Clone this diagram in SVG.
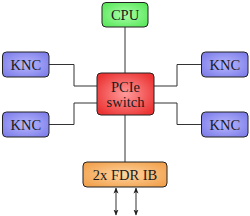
<svg xmlns="http://www.w3.org/2000/svg" width="250" height="216" viewBox="0 0 250 216">
<defs>
<radialGradient id="gG" cx="50%" cy="50%" r="60%"><stop offset="0" stop-color="#a8ffa8"/><stop offset="1" stop-color="#5ee85e"/></radialGradient>
<radialGradient id="gR" cx="50%" cy="50%" r="60%"><stop offset="0" stop-color="#ff9a9a"/><stop offset="1" stop-color="#ec3434"/></radialGradient>
<radialGradient id="gB" cx="50%" cy="50%" r="60%"><stop offset="0" stop-color="#b8b8ff"/><stop offset="1" stop-color="#8080ea"/></radialGradient>
<radialGradient id="gO" cx="50%" cy="50%" r="60%"><stop offset="0" stop-color="#ffd4a0"/><stop offset="1" stop-color="#f2a350"/></radialGradient>
<marker id="ah" viewBox="0 0 6 6" refX="5.5" refY="3" markerWidth="6" markerHeight="6" orient="auto-start-reverse" markerUnits="userSpaceOnUse"><path d="M0,0.5 L6,3 L0,5.5 L1.5,3 Z" fill="#222"/></marker>
</defs>
<style>
.box{stroke:#222;stroke-width:1;}
.t{font-family:"Liberation Serif","DejaVu Serif",serif;font-size:14.5px;text-anchor:middle;fill:#1a1a1a;}
.c{fill:none;stroke:#333;stroke-width:1;}
</style>
<g id="connectors">
<path class="c" d="M125,27 V73"/>
<path class="c" d="M125,115 V162"/>
<path class="c" d="M49,64.5 H74 V86 H97"/>
<path class="c" d="M201,64.5 H177 V86 H154"/>
<path class="c" d="M49,124.5 H74 V103 H97"/>
<path class="c" d="M201,124.5 H177 V103 H154"/>
<path class="c" d="M116,188 V215" marker-start="url(#ah)" marker-end="url(#ah)"/>
<path class="c" d="M136,188 V215" marker-start="url(#ah)" marker-end="url(#ah)"/>
</g>
<g id="cpu"><rect class="box" x="102" y="2.5" width="46" height="24.5" rx="4" fill="url(#gG)"/><text class="t" x="125" y="19.5">CPU</text></g>
<g id="pcie"><rect class="box" x="97" y="73" width="57" height="42" rx="4" fill="url(#gR)"/><text class="t" x="125.5" y="92">PCIe</text><text class="t" x="125.5" y="107">switch</text></g>
<g id="knc1"><rect class="box" x="2.5" y="52" width="46.5" height="25" rx="4" fill="url(#gB)"/><text class="t" x="25.75" y="69.5">KNC</text></g>
<g id="knc2"><rect class="box" x="201.5" y="52" width="46.5" height="25" rx="4" fill="url(#gB)"/><text class="t" x="224.75" y="69.5">KNC</text></g>
<g id="knc3"><rect class="box" x="2.5" y="112" width="46.5" height="25" rx="4" fill="url(#gB)"/><text class="t" x="25.75" y="129.5">KNC</text></g>
<g id="knc4"><rect class="box" x="201.5" y="112" width="46.5" height="25" rx="4" fill="url(#gB)"/><text class="t" x="224.75" y="129.5">KNC</text></g>
<g id="ib"><rect class="box" x="83" y="162" width="84" height="25" rx="4" fill="url(#gO)"/><text class="t" x="125" y="179.5">2x FDR IB</text></g>
</svg>
